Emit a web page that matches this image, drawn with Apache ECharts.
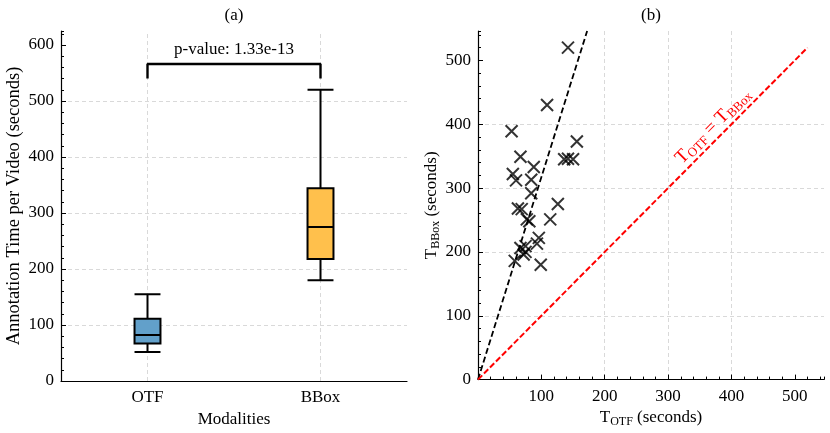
<!DOCTYPE html>
<html>
<head>
<meta charset="utf-8">
<script src="https://cdn.jsdelivr.net/npm/echarts@6/dist/echarts.min.js"></script>
<style>
  html, body { margin: 0; padding: 0; background: #fff; }
  #main { width: 830px; height: 433px; }
</style>
</head>
<body>
<div id="main"></div>
<script>
// (a) annotation time per video, box summaries
const modalities = ['OTF', 'BBox']
// min, Q1, median, Q3, max
const otfStats = [52, 67, 82, 111, 155]
const bboxStats = [180, 218, 275, 344, 520]
const bracketLow = 540
const bracketHigh = 566
const pValueText = 'p-value: 1.33e-13'
const yTicksA = [0, 100, 200, 300, 400, 500, 600]

// (b) per video times, OTF vs BBox
const otfTimes = [53, 67, 88, 55, 60, 84, 84, 136, 142, 150, 156, 109, 142, 126, 114,
  63, 69, 77, 81, 96, 93, 67, 75, 72, 75, 58, 99]
const bboxTimes = [389, 349, 333, 322, 312, 313, 292, 345, 346, 345, 373, 430, 520, 275, 251,
  268, 267, 251, 248, 222, 213, 206, 209, 196, 200, 186, 180]
const fitSlope = 3.17
const yTicksB = [0, 100, 200, 300, 400, 500]
const xTicksB = [100, 200, 300, 400, 500]

const FONT = 'Liberation Serif'
const gridLine = { color: '#d9d9d9', width: 1, type: [4, 3] }

function range (a, b, step) {
  let out = []
  for (let v = a; v <= b; v += step) out.push(v)
  return out
}

function majorValueAxis (grid, pos, max, ticks) {
  return {
    type: 'value',
    gridIndex: grid,
    position: pos,
    min: 0,
    max: max,
    interval: 100,
    axisLine: { show: true, onZero: false, lineStyle: { color: '#000', width: 1.2 } },
    axisTick: { show: true, inside: true, length: 5, customValues: ticks, lineStyle: { color: '#000' } },
    axisLabel: { fontFamily: FONT, fontSize: 17, color: '#000', margin: 7, customValues: ticks },
    splitLine: { show: true, showMinLine: false, showMaxLine: false, lineStyle: gridLine },
    nameLocation: 'middle',
    nameTextStyle: {
      fontFamily: FONT,
      fontSize: 17,
      color: '#000',
      rich: {
        t: { fontFamily: FONT, fontSize: 17, color: '#000' },
        s: { fontFamily: FONT, fontSize: 12, color: '#000', verticalAlign: 'top', padding: [8, 0, 0, 0] }
      }
    }
  }
}

function minorValueAxis (grid, pos, max) {
  return {
    type: 'value',
    gridIndex: grid,
    position: pos,
    min: 0,
    max: max,
    interval: 20,
    axisLine: { show: false },
    axisTick: { show: true, inside: true, length: 3, lineStyle: { color: '#000' } },
    axisLabel: { show: false },
    splitLine: { show: false }
  }
}

var myChart = echarts.init(document.getElementById('main'))

let xA = {
  type: 'category',
  gridIndex: 0,
  position: 'bottom',
  data: modalities,
  boundaryGap: true,
  axisLine: { lineStyle: { color: '#000', width: 1.2 } },
  axisTick: { inside: true, alignWithLabel: true, length: 5, interval: 0, lineStyle: { color: '#000' } },
  axisLabel: { fontFamily: FONT, fontSize: 17, color: '#000', margin: 8, interval: 0 },
  splitLine: { show: false },
  name: 'Modalities',
  nameLocation: 'middle',
  nameGap: 30,
  nameTextStyle: { fontFamily: FONT, fontSize: 17, color: '#000' }
}
let xAMinor = {
  type: 'category',
  gridIndex: 0,
  position: 'bottom',
  data: range(1, 10, 1).map(() => ''),
  boundaryGap: true,
  axisLine: { show: false },
  axisTick: { inside: true, alignWithLabel: true, length: 3, interval: 0, lineStyle: { color: '#000' } },
  axisLabel: { show: false },
  splitLine: { show: false }
}

let yA = majorValueAxis(0, 'left', 625, yTicksA)
yA.name = 'Annotation Time per Video (seconds)'
yA.nameGap = 37
yA.nameTextStyle.fontSize = 18.5

let xB = majorValueAxis(1, 'bottom', 546, xTicksB)
xB.axisLabel.margin = 8
xB.name = '{t|T}{s|OTF} (seconds)'
xB.nameGap = 23

let yB = majorValueAxis(1, 'left', 546, yTicksB)
yB.name = '{t|T}{s|BBox} (seconds)'
yB.nameGap = 33

let scatterData = otfTimes.map((x, i) => [x, bboxTimes[i]])
let maxTime = Math.max(...bboxTimes)

let option = {
  animation: false,
  backgroundColor: '#fff',
  grid: [
    { left: 61, right: 423, top: 31, bottom: 51 },
    { left: 478, right: 6, top: 31, bottom: 51 }
  ],
  xAxis: [xA, xAMinor, xB, minorValueAxis(1, 'bottom', 546)],
  yAxis: [yA, minorValueAxis(0, 'left', 625), yB, minorValueAxis(1, 'left', 546)],
  series: [
    {
      type: 'boxplot',
      xAxisIndex: 0,
      yAxisIndex: 0,
      z: 5,
      boxWidth: ['15%', '15%'],
      itemStyle: { borderColor: '#000', borderWidth: 2 },
      data: [
        { value: otfStats, itemStyle: { color: '#62a0ca' } },
        { value: bboxStats, itemStyle: { color: '#ffc04c' } }
      ]
    },
    {
      type: 'line',
      xAxisIndex: 0,
      yAxisIndex: 0,
      z: 4,
      symbol: 'none',
      lineStyle: { color: '#000', width: 2.4 },
      data: [[modalities[0], bracketLow], [modalities[0], bracketHigh], [modalities[1], bracketHigh], [modalities[1], bracketLow]],
      markLine: {
        silent: true,
        symbol: ['none', 'none'],
        z: 1,
        label: { show: false },
        lineStyle: gridLine,
        data: [{ xAxis: 0 }, { xAxis: 1 }]
      }
    },
    {
      type: 'scatter',
      xAxisIndex: 2,
      yAxisIndex: 2,
      z: 5,
      symbol: 'path://M0,0L10,10M10,0L0,10',
      symbolSize: 12,
      itemStyle: { color: 'transparent', borderColor: '#000', borderWidth: 2 },
      data: scatterData
    },
    {
      type: 'line',
      xAxisIndex: 2,
      yAxisIndex: 2,
      z: 3,
      symbol: 'none',
      lineStyle: { color: '#000', width: 1.8, type: [6, 3] },
      data: [[0, 0], [546 / fitSlope, 546]]
    },
    {
      type: 'line',
      xAxisIndex: 2,
      yAxisIndex: 2,
      z: 3,
      symbol: 'none',
      lineStyle: { color: '#ff0000', width: 2, type: [6, 2.5] },
      data: [[0, 0], [maxTime, maxTime]]
    }
  ]
}

myChart.setOption(option, true)

// titles, p-value and the rotated identity label, placed through the axes
let gridB = { xAxisIndex: 2, yAxisIndex: 2 }
let gridA = { xAxisIndex: 0, yAxisIndex: 0 }
let p0 = myChart.convertToPixel(gridB, [0, 0])
let p1 = myChart.convertToPixel(gridB, [maxTime, maxTime])
let pl = myChart.convertToPixel(gridB, [371, 397])
let angle = -Math.atan2(p1[1] - p0[1], p1[0] - p0[0])
let rightMid = myChart.convertToPixel(gridB, [273, 0])[0]
let bA0 = myChart.convertToPixel(gridA, [modalities[0], bracketHigh])
let bA1 = myChart.convertToPixel(gridA, [modalities[1], bracketHigh])
let leftMid = (bA0[0] + bA1[0]) / 2

myChart.setOption({
  graphic: [
    { type: 'text', x: 234, y: 16, style: { text: '(a)', fontFamily: FONT, fontSize: 17, fill: '#000', align: 'center', verticalAlign: 'middle' } },
    { type: 'text', x: rightMid, y: 16, style: { text: '(b)', fontFamily: FONT, fontSize: 17, fill: '#000', align: 'center', verticalAlign: 'middle' } },
    { type: 'text', x: leftMid, y: bA0[1] - 6, style: { text: pValueText, fontFamily: FONT, fontSize: 17, fill: '#000', align: 'center', verticalAlign: 'bottom' } },
    {
      type: 'text',
      x: pl[0],
      y: pl[1],
      rotation: angle,
      z: 10,
      style: {
        text: '{t|T}{s|OTF}{t| = T}{s|BBox}',
        align: 'center',
        verticalAlign: 'middle',
        rich: {
          t: { fontFamily: FONT, fontSize: 19, fill: '#ff0000' },
          s: { fontFamily: FONT, fontSize: 13, fill: '#ff0000', verticalAlign: 'top', padding: [9, 0, 0, 0] }
        }
      }
    }
  ]
})
</script>
</body>
</html>
